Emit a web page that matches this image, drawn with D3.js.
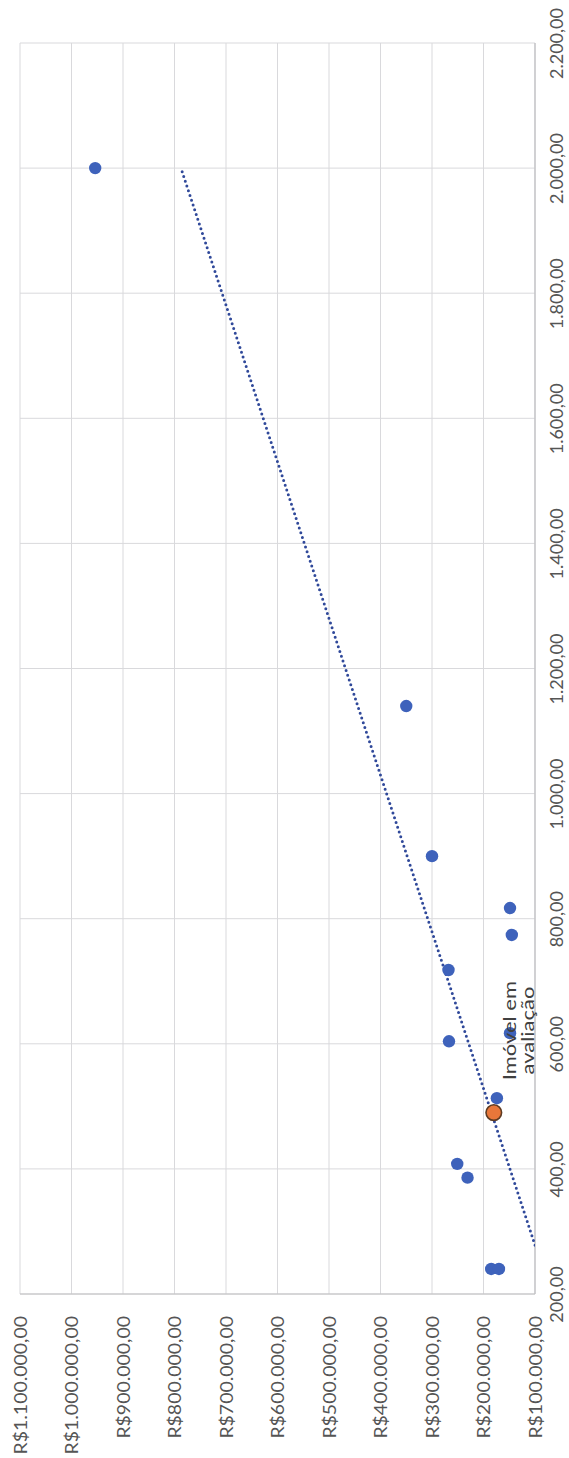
<!DOCTYPE html>
<html>
<head>
<meta charset="utf-8">
<script src="https://cdn.jsdelivr.net/npm/d3@7"></script>
<style>
  html, body { margin: 0; padding: 0; background: #ffffff; }
  svg { display: block; font-family: Lato, "Open Sans", sans-serif; }
</style>
</head>
<body>
<svg id="chart" width="569" height="1458"></svg>
<script>
// Comparable properties: built area (m²) and asking price (R$)
const areas  = [2000, 1140, 900, 817, 774, 718, 604, 617, 513, 408, 386, 240, 240];
const prices = [954000, 350000, 300000, 148500, 145000, 268000, 267000, 148500, 174000, 251000, 231000, 185000, 170000];

// Property under appraisal
const subjectArea  = [490];
const subjectPrice = [180000];
const subjectLabel = ["Imóvel em", "avaliação"];

// Axis ticks
const areaTicks  = [200, 400, 600, 800, 1000, 1200, 1400, 1600, 1800, 2000, 2200];
const priceTicks = [100000, 200000, 300000, 400000, 500000, 600000, 700000, 800000, 900000, 1000000, 1100000];

const ptBR = d3.formatLocale({
  decimal: ",", thousands: ".", grouping: [3], currency: ["R$", ""]
});
const fmtPrice = ptBR.format("$,.2f");
const fmtArea  = ptBR.format(",.2f");

// The chart is laid out turned a quarter turn: area runs bottom→top, price runs right→left
const plot = { left: 20, right: 535, top: 43, bottom: 1294 };
const y = d3.scaleLinear().domain([200, 2200]).range([plot.bottom, plot.top]);
const x = d3.scaleLinear().domain([100000, 1100000]).range([plot.right, plot.left]);

const FONT = "Lato, 'Open Sans', sans-serif";
const svg = d3.select("#chart");

svg.append("defs").append("clipPath").attr("id", "plotClip")
  .append("rect")
  .attr("x", plot.left).attr("y", plot.top)
  .attr("width", plot.right - plot.left).attr("height", plot.bottom - plot.top);

// Gridlines
const grid = svg.append("g").attr("class", "grid");
grid.selectAll("line.gp").data(priceTicks).join("line")
  .attr("class", "gp")
  .attr("x1", d => x(d)).attr("x2", d => x(d))
  .attr("y1", plot.top).attr("y2", plot.bottom)
  .attr("stroke", "#d9d9dc").attr("stroke-width", 1);
grid.selectAll("line.ga").data(areaTicks).join("line")
  .attr("class", "ga")
  .attr("x1", plot.left).attr("x2", plot.right)
  .attr("y1", d => y(d)).attr("y2", d => y(d))
  .attr("stroke", "#d9d9dc").attr("stroke-width", 1);

// Axis lines
svg.append("line")
  .attr("x1", plot.left).attr("x2", plot.right)
  .attr("y1", plot.bottom).attr("y2", plot.bottom)
  .attr("stroke", "#bfbfc2").attr("stroke-width", 1.2);
svg.append("line")
  .attr("x1", plot.right).attr("x2", plot.right)
  .attr("y1", plot.top).attr("y2", plot.bottom)
  .attr("stroke", "#bfbfc2").attr("stroke-width", 1.2);

// Price axis (labels below the plot, reading upward)
const priceAxis = svg.append("g")
  .attr("transform", `translate(0,${plot.bottom})`)
  .call(d3.axisBottom(x).tickValues(priceTicks).tickFormat(fmtPrice).tickSize(0));
priceAxis.select(".domain").remove();
priceAxis.selectAll("text")
  .attr("x", 0).attr("y", 0).attr("dy", "0.35em")
  .attr("transform", "translate(0,22) rotate(-90) scale(1.08,1)")
  .attr("text-anchor", "end")
  .attr("fill", "#555555")
  .style("font-size", "18px")
  .style("font-family", FONT);

// Area axis (labels right of the plot, reading upward)
const areaAxis = svg.append("g")
  .attr("transform", `translate(${plot.right},0)`)
  .call(d3.axisRight(y).tickValues(areaTicks).tickFormat(fmtArea).tickSize(0));
areaAxis.select(".domain").remove();
areaAxis.selectAll("text")
  .attr("x", 0).attr("y", 0).attr("dy", "0.35em")
  .attr("transform", "translate(22,0) rotate(-90)")
  .attr("text-anchor", "middle")
  .attr("fill", "#555555")
  .style("font-size", "18px")
  .style("font-family", FONT);

// Linear trend (least squares of price on area) over the comparables
const n = areas.length;
const mx = d3.mean(areas), my = d3.mean(prices);
let sxy = 0, sxx = 0;
for (let i = 0; i < n; i++) {
  sxy += (areas[i] - mx) * (prices[i] - my);
  sxx += (areas[i] - mx) * (areas[i] - mx);
}
const slope = sxy / sxx, intercept = my - slope * mx;
const [aMin, aMax] = d3.extent(areas);
const trend = [aMin, aMax].map(a => ({ a, p: intercept + slope * a }));

svg.append("g").attr("clip-path", "url(#plotClip)")
  .append("path")
  .datum(trend)
  .attr("d", d3.line().x(d => x(d.p)).y(d => y(d.a)))
  .attr("fill", "none")
  .attr("stroke", "#30499a")
  .attr("stroke-width", 3)
  .attr("stroke-linecap", "round")
  .attr("stroke-dasharray", "0 5");

// Comparables
const pts = areas.map((a, i) => ({ a, p: prices[i] }));
svg.append("g").selectAll("circle").data(pts).join("circle")
  .attr("cx", d => x(d.p)).attr("cy", d => y(d.a))
  .attr("r", 6.2)
  .attr("fill", "#3e62bb");

// Subject property
const subj = subjectArea.map((a, i) => ({ a, p: subjectPrice[i] }));
svg.append("g").selectAll("circle").data(subj).join("circle")
  .attr("cx", d => x(d.p)).attr("cy", d => y(d.a))
  .attr("r", 7.8)
  .attr("fill", "#e8773a")
  .attr("stroke", "#5e3b22")
  .attr("stroke-width", 1.6);

// Data label for the subject property, two lines reading upward
const s = subj[0];
svg.append("g").selectAll("text").data(subjectLabel).join("text")
  .attr("transform", (d, i) =>
    `translate(${x(s.p) + 16 + i * 18},${y(s.a) - 82}) rotate(-90) scale(1.22,1)`)
  .attr("dy", "0.35em")
  .attr("text-anchor", "middle")
  .attr("fill", "#404040")
  .style("font-size", "18px")
  .style("font-family", FONT)
  .text(d => d);
</script>
</body>
</html>
